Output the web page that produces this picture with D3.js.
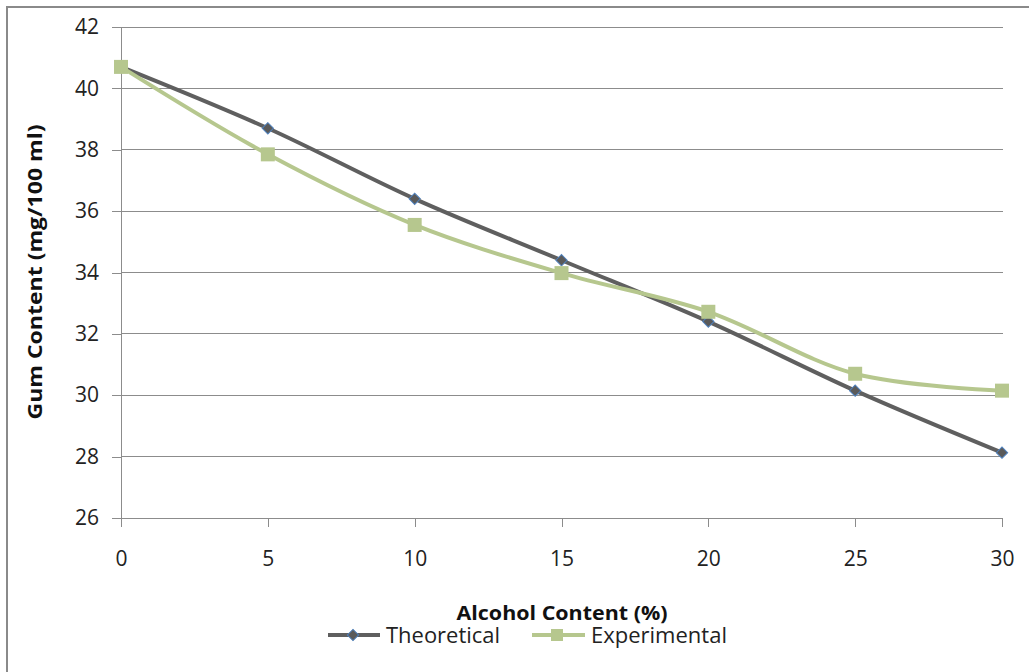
<!DOCTYPE html>
<html><head><meta charset="utf-8">
<script src="https://cdn.jsdelivr.net/npm/d3@7"></script>
<style>body{margin:0;background:#fff}svg{display:block}</style>
</head><body>
<svg id="c" width="1029" height="672"></svg>
<script>
const alcohol = [0, 5, 10, 15, 20, 25, 30];
const theoretical = [40.7, 38.7, 36.4, 34.4, 32.4, 30.15, 28.13];
const experimental = [40.7, 37.85, 35.55, 33.98, 32.72, 30.7, 30.15];
const yTicks = [26, 28, 30, 32, 34, 36, 38, 40, 42];
const xTicks = [0, 5, 10, 15, 20, 25, 30];
const seriesNames = ["Theoretical", "Experimental"];

const svg = d3.select("#c");
const font = "'Open Sans', Lato, sans-serif";
const L = 121, R = 1002, T = 27, B = 518;
const x = d3.scaleLinear().domain([0, 30]).range([L, R]);
const y = d3.scaleLinear().domain([26, 42]).range([B, T]);

svg.append("rect").attr("x", 7).attr("y", 7).attr("width", 1040).attr("height", 700)
  .attr("fill", "none").attr("stroke", "#8a8a8a").attr("stroke-width", 2);

// gridlines
svg.append("g").selectAll("line").data(yTicks.filter(d => d > 26)).join("line")
  .attr("x1", L).attr("x2", R + 1).attr("y1", d => y(d)).attr("y2", d => y(d))
  .attr("stroke", "#8c8c8c").attr("stroke-width", 1).attr("shape-rendering", "crispEdges");

const yAxis = svg.append("g").attr("transform", `translate(${L},0)`)
  .call(d3.axisLeft(y).tickValues(yTicks).tickSize(9).tickPadding(13).tickFormat(d3.format("d")));
const xAxis = svg.append("g").attr("transform", `translate(0,${B})`)
  .call(d3.axisBottom(x).tickValues(xTicks).tickSize(9).tickPadding(24).tickFormat(d3.format("d")));
[yAxis, xAxis].forEach(a => {
  a.select(".domain").attr("stroke", "#8c8c8c").attr("shape-rendering", "crispEdges");
  a.selectAll(".tick line").attr("stroke", "#8c8c8c").attr("shape-rendering", "crispEdges");
  a.selectAll("text").attr("font-family", font).attr("font-size", 21).attr("fill", "#222");
});
yAxis.select(".domain").attr("d", `M-9,${B}H0V${T}H-9`);
xAxis.select(".domain").attr("d", `M${L},9V0H${R}V9`);

const curve = d3.curveCatmullRom.alpha(0.5);
const line = d3.line().x((d, i) => x(alcohol[i])).y(d => y(d)).curve(curve);

const tCol = "#5f5f5f", eCol = "#b6c78e";
svg.append("path").attr("d", line(theoretical)).attr("fill", "none").attr("stroke", tCol).attr("stroke-width", 4);
svg.append("path").attr("d", line(experimental)).attr("fill", "none").attr("stroke", eCol).attr("stroke-width", 4);

function drawDiamond(g, cx, cy) {
  g.append("path").attr("d", d3.symbol().type(d3.symbolSquare).size(64)())
    .attr("transform", `translate(${cx},${cy}) rotate(45)`)
    .attr("fill", "#5a5a5a").attr("stroke", "#4f81bd").attr("stroke-width", 1);
}
function drawSquare(g, cx, cy, s) {
  g.append("rect").attr("x", cx - s / 2).attr("y", cy - s / 2).attr("width", s).attr("height", s)
    .attr("fill", eCol);
}
const gm = svg.append("g");
theoretical.forEach((v, i) => drawDiamond(gm, x(alcohol[i]), y(v)));
experimental.forEach((v, i) => drawSquare(gm, x(alcohol[i]), y(v), 14));

// titles
svg.append("text").attr("x", 562).attr("y", 620).attr("text-anchor", "middle")
  .attr("font-family", font).attr("font-weight", "bold").attr("font-size", 20).attr("fill", "#111")
  .attr("textLength", 211).attr("lengthAdjust", "spacingAndGlyphs")
  .text("Alcohol Content (%)");
svg.append("text").attr("transform", "translate(42,272) rotate(-90)").attr("text-anchor", "middle")
  .attr("font-family", font).attr("font-weight", "bold").attr("font-size", 20).attr("fill", "#111")
  .attr("textLength", 295).attr("lengthAdjust", "spacingAndGlyphs")
  .text("Gum Content (mg/100 ml)");

// legend
const leg = svg.append("g");
const ly = 635;
leg.append("line").attr("x1", 328).attr("x2", 380).attr("y1", ly).attr("y2", ly).attr("stroke", tCol).attr("stroke-width", 4);
drawDiamond(leg, 353, ly);
leg.append("text").attr("x", 386).attr("y", 643).attr("font-family", font).attr("font-size", 21).attr("fill", "#222")
  .attr("textLength", 114).attr("lengthAdjust", "spacingAndGlyphs").text(seriesNames[0]);
leg.append("line").attr("x1", 532).attr("x2", 585).attr("y1", ly).attr("y2", ly).attr("stroke", eCol).attr("stroke-width", 4);
drawSquare(leg, 557, ly, 12);
leg.append("text").attr("x", 591).attr("y", 643).attr("font-family", font).attr("font-size", 21).attr("fill", "#222")
  .attr("textLength", 136).attr("lengthAdjust", "spacingAndGlyphs").text(seriesNames[1]);
</script>
</body></html>
